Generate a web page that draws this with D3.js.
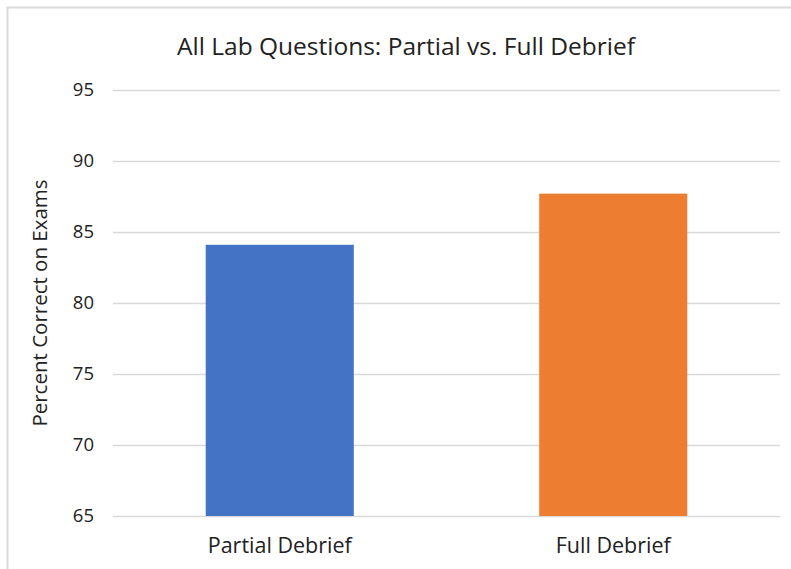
<!DOCTYPE html>
<html><head><meta charset="utf-8">
<script src="https://cdn.jsdelivr.net/npm/d3@7"></script>
<style>body{margin:0;background:#fff;}svg{display:block;font-family:"Open Sans",sans-serif;}</style>
</head><body>
<svg id="c" width="791" height="569"></svg>
<script>
const categories = ["Partial Debrief", "Full Debrief"];
const values = [84.1, 87.7];
const colors = ["#4472C4", "#ED7D31"];
const yTicks = [65, 70, 75, 80, 85, 90, 95];
const title = "All Lab Questions: Partial vs. Full Debrief";
const yTitle = "Percent Correct on Exams";

const svg = d3.select("#c");
const m = {left: 113, right: 780, top: 90, bottom: 516};

// outer frame
svg.append("path").attr("d", "M7.5,569 L7.5,7.5 L791,7.5")
  .attr("fill", "none").attr("stroke", "#d9d9d9").attr("stroke-width", 2);

const x = d3.scaleBand().domain(categories).range([m.left, m.right])
  .paddingInner(0.556).paddingOuter(0.278);
const y = d3.scaleLinear().domain([65, 95]).range([m.bottom, m.top]);

// gridlines
svg.append("g").selectAll("line").data(yTicks).join("line")
  .attr("x1", m.left).attr("x2", m.right)
  .attr("y1", d => y(d) + 0.5).attr("y2", d => y(d) + 0.5)
  .attr("stroke", "#d9d9d9").attr("stroke-width", 1.3);

// y axis labels
const yAxis = d3.axisLeft(y).tickValues(yTicks).tickSize(0).tickPadding(19);
const gy = svg.append("g").attr("transform", `translate(${m.left},0)`).call(yAxis);
gy.select(".domain").remove();
gy.selectAll("text").attr("font-size", 18.5).attr("fill", "#222").attr("font-family", "Open Sans");

// bars
svg.append("g").selectAll("rect").data(values).join("rect")
  .attr("x", (d, i) => x(categories[i]))
  .attr("width", x.bandwidth())
  .attr("y", d => y(d))
  .attr("height", d => y(65) - y(d))
  .attr("fill", (d, i) => colors[i]);

// x axis labels
const xAxis = d3.axisBottom(x).tickSize(0).tickPadding(22);
const gx = svg.append("g").attr("transform", `translate(0,${m.bottom})`).call(xAxis);
gx.select(".domain").remove();
gx.selectAll("text").attr("font-size", 21.5).attr("fill", "#222").attr("font-family", "Open Sans");

// title
svg.append("text").attr("x", 406).attr("y", 55).attr("text-anchor", "middle")
  .attr("font-size", 24.5).attr("fill", "#222").text(title);

// y title
svg.append("text").attr("transform", "translate(47,303) rotate(-90)")
  .attr("text-anchor", "middle").attr("font-size", 20.5).attr("fill", "#222").text(yTitle);
</script>
</body></html>
